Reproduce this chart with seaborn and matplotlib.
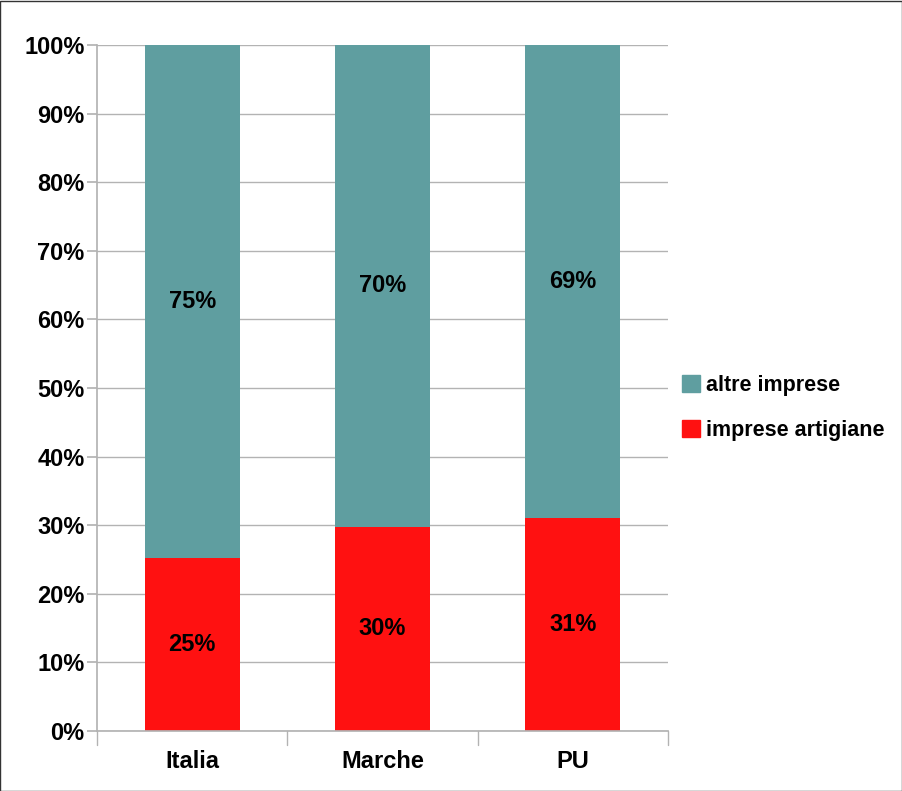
import matplotlib
matplotlib.use("Agg")
import matplotlib.pyplot as plt
import seaborn as sns
import pandas as pd
from matplotlib.patches import Patch, Rectangle

categories = ["Italia", "Marche", "PU"]
artigiane = [25.2, 29.8, 31.1]
altre = [74.8, 70.2, 68.9]
lab_art = ["25%", "30%", "31%"]
lab_alt = ["75%", "70%", "69%"]
yticks = list(range(0, 101, 10))

sns.set_theme(style="white")
plt.rcParams['font.family'] = ['Liberation Sans', 'DejaVu Sans']
plt.rcParams['font.weight'] = 'bold'
plt.rcParams['text.color'] = 'black'
plt.rcParams['xtick.color'] = 'black'
plt.rcParams['ytick.color'] = 'black'

fig = plt.figure(figsize=(9.03, 7.91), dpi=100)
ax = fig.add_axes([97/903, 1-731/791, 571/903, 686/791])

df = pd.DataFrame({"cat": categories, "art": artigiane, "alt": altre})
total = [a + b for a, b in zip(artigiane, altre)]
sns.barplot(data=df.assign(tot=total), x="cat", y="tot", color="#5f9ea0", width=0.5, saturation=1, ax=ax, linewidth=0)
sns.barplot(data=df, x="cat", y="art", color="#ff1111", width=0.5, saturation=1, ax=ax, linewidth=0)

for i in range(3):
    ax.text(i, artigiane[i]/2, lab_art[i], ha="center", va="center", fontsize=17, fontweight="bold")
    ax.text(i, artigiane[i] + altre[i]/2, lab_alt[i], ha="center", va="center", fontsize=17, fontweight="bold")

ax.set_xlim(-0.5, 2.5)
ax.set_ylim(0, 100)
ax.set_yticks(yticks)
ax.set_yticklabels([f"{t}%" for t in yticks], fontsize=17, fontweight="bold")
ax.set_xticks([0, 1, 2])
ax.set_xticklabels(categories, fontsize=17, fontweight="bold")
ax.set_xlabel(""); ax.set_ylabel("")
ax.yaxis.grid(True, color="#b3b3b3", linewidth=1)
ax.set_axisbelow(True)
for s in ["top", "right"]:
    ax.spines[s].set_visible(False)
ax.spines["left"].set_color("#b3b3b3")
ax.spines["bottom"].set_color("#b3b3b3")
ax.tick_params(axis="x", length=0, pad=14)
ax.tick_params(axis="y", length=7, color="#b3b3b3", left=True, pad=2)
for xb in [-0.5, 0.5, 1.5, 2.5]:
    ax.plot([xb, xb], [0, -2], color="#b3b3b3", lw=1, clip_on=False)

handles = [Patch(color="#5f9ea0", label="altre imprese"), Patch(color="#ff1111", label="imprese artigiane")]
fig.legend(handles=handles, loc="center left", bbox_to_anchor=(676/903, 1-408/791), frameon=False,
           prop={"size": 15.5, "weight": "bold"}, handlelength=0.8, handleheight=0.8, handletextpad=0.3,
           labelspacing=1.1, borderaxespad=0, borderpad=0.3)

fig.patches.append(Rectangle((0.5/903, 0), 1-1/903, 1-1/791, transform=fig.transFigure, fill=False, edgecolor="#333333", lw=1))
fig.savefig("out.png", dpi=100)
